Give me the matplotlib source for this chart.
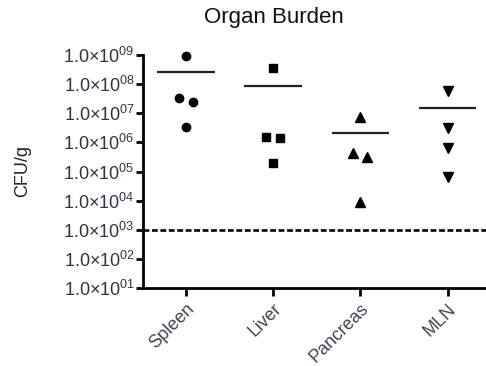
import numpy as np
import matplotlib
matplotlib.use("Agg")
import matplotlib.pyplot as plt
from matplotlib.ticker import LogLocator, NullFormatter

plt.rcParams['font.family'] = ['Liberation Sans', 'DejaVu Sans']
plt.rcParams['mathtext.fontset'] = 'custom'
plt.rcParams['mathtext.rm'] = 'Liberation Sans'
plt.rcParams['mathtext.it'] = 'Liberation Sans'
plt.rcParams['mathtext.bf'] = 'Liberation Sans'

categories = ["Spleen", "Liver", "Pancreas", "MLN"]
spleen = [9.5e8, 3.4e7, 2.5e7, 3.3e6]
liver = [3.5e8, 1.55e6, 1.45e6, 1.9e5]
pancreas = [7.5e6, 4.2e5, 3.2e5, 9.0e3]
mln = [5.7e7, 3.0e6, 6.2e5, 6.6e4]
threshold = 1e3
ytick_exps = [1, 2, 3, 4, 5, 6, 7, 8, 9]
series = [spleen, liver, pancreas, mln]

jitters = [[0.0, -0.08, 0.08, 0.0],
           [0.0, -0.085, 0.077, 0.0],
           [0.0, -0.08, 0.08, 0.0],
           [0.0, 0.0, 0.0, 0.0]]
markers = ["o", "s", "^", "v"]
msizes = [6, 6, 6.5, 6.5]

fig = plt.figure(figsize=(4.86, 3.66), dpi=100)
ax = fig.add_axes([143/486, 1-288/366, 1-143/486, (288-55)/366])

for i, vals in enumerate(series):
    xs = [i + j for j in jitters[i]]
    ax.plot(xs, vals, linestyle='none', marker=markers[i], color='black',
            markersize=msizes[i], clip_on=False, zorder=3)
    m = np.mean(vals)
    ax.plot([i - 0.33, i + 0.33], [m, m], color='#222222', lw=1.6, solid_capstyle='butt')

ax.axhline(threshold, color='black', lw=1.9, ls=(0, (2.2, 1.0)))

ax.set_yscale('log')
ax.set_ylim(1e1, 1e9)
ax.set_xlim(-0.49, 3.44)
ax.set_yticks([10.0**e for e in ytick_exps])
ax.set_yticklabels([r'$\mathregular{1.0{\times}10^{%02d}}$' % e for e in ytick_exps])
ax.yaxis.set_minor_locator(LogLocator(base=10, subs=np.arange(2, 10)))
ax.yaxis.set_minor_formatter(NullFormatter())
ax.set_xticks(range(len(categories)))
ax.set_xticklabels(categories, rotation=45, ha='right', va='top', rotation_mode='anchor')

for s in ['top', 'right']:
    ax.spines[s].set_visible(False)
for s in ['left', 'bottom']:
    ax.spines[s].set_linewidth(2)
ax.tick_params(axis='y', which='major', length=5, width=2, labelsize=13, labelcolor='#333344', pad=1)
ax.tick_params(axis='y', which='minor', length=3, width=1.2)
ax.tick_params(axis='x', which='major', length=6, width=2, labelsize=13, labelcolor='#444455', pad=3)

fig.text(23/486, 1-171/366, 'CFU/g', fontsize=13, rotation=90, ha='center', va='center', color='#222222')
fig.text(274/486, 1-17/366, 'Organ Burden', fontsize=16, ha='center', va='center', color='#111111')

fig.savefig('out.png', dpi=100)
